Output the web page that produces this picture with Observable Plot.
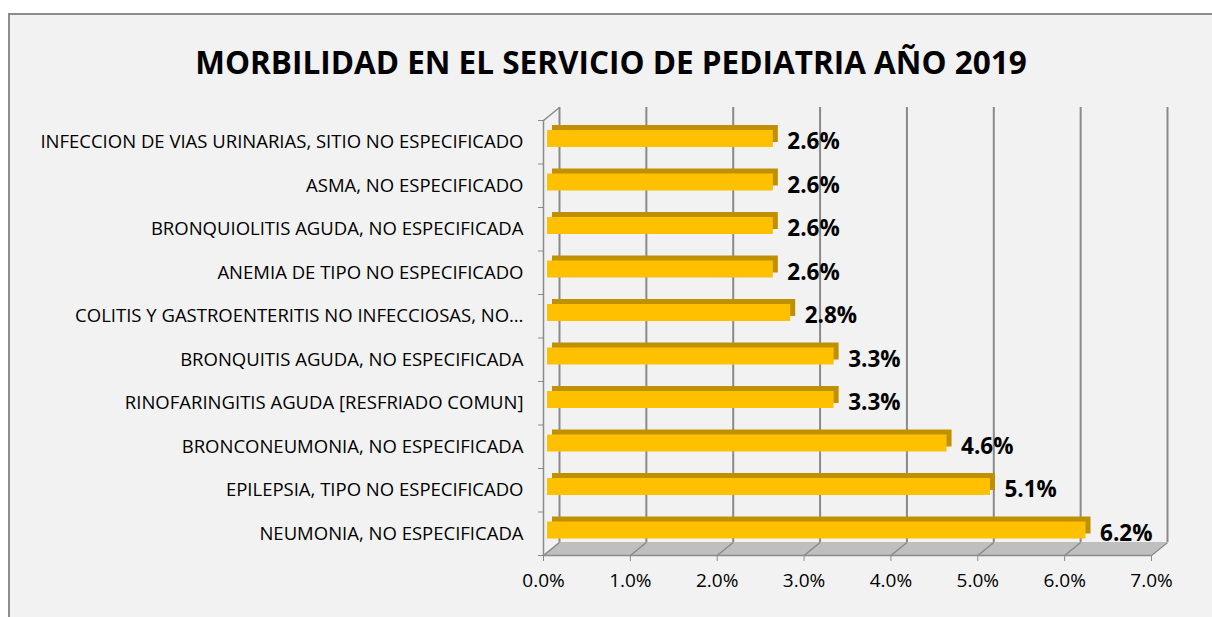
<!DOCTYPE html>
<html>
<head>
<meta charset="utf-8">
<script src="https://cdn.jsdelivr.net/npm/d3@7"></script>
<script src="https://cdn.jsdelivr.net/npm/@observablehq/plot@0.6"></script>
<style>
  html, body { margin: 0; padding: 0; background: #ffffff; width: 1212px; height: 617px; overflow: hidden; }
  #frame { position: absolute; left: 8px; top: 13px; width: 1230px; height: 640px; background: #f2f2f2; border: 2px solid #8c8c8c; box-sizing: border-box; }
  #title { position: absolute; left: 0; top: 40px; width: 1222px; text-align: center; font-family: "Open Sans", sans-serif; font-weight: 700; font-size: 31.5px; line-height: 44px; color: #000; }
  #chart { position: absolute; left: 0; top: 96px; }
</style>
</head>
<body>
<div id="frame"></div>
<div id="title">MORBILIDAD EN EL SERVICIO DE PEDIATRIA AÑO 2019</div>
<div id="chart"></div>
<script>
// Categories top to bottom
const categories = [
  "INFECCION DE VIAS URINARIAS, SITIO NO ESPECIFICADO",
  "ASMA, NO ESPECIFICADO",
  "BRONQUIOLITIS AGUDA, NO ESPECIFICADA",
  "ANEMIA DE TIPO NO ESPECIFICADO",
  "COLITIS Y GASTROENTERITIS NO INFECCIOSAS, NO…",
  "BRONQUITIS AGUDA, NO ESPECIFICADA",
  "RINOFARINGITIS AGUDA [RESFRIADO COMUN]",
  "BRONCONEUMONIA, NO ESPECIFICADA",
  "EPILEPSIA, TIPO NO ESPECIFICADO",
  "NEUMONIA, NO ESPECIFICADA"
];
const values = [2.6, 2.6, 2.6, 2.6, 2.8, 3.3, 3.3, 4.6, 5.1, 6.2];
const xTicks = [0, 1, 2, 3, 4, 5, 6, 7];

const data = categories.map((c, i) => ({cat: c, row: i, value: values[i]}));
const rows = d3.range(categories.length);

const W = 1212, H = 512;
const mL = 543, mR = 61, mT = 24, mB = 53;
const pxPerX = (W - mL - mR) / (xTicks[xTicks.length - 1] - xTicks[0]);
const pxPerRow = (H - mT - mB) / categories.length;
const depthX = 16 / pxPerX;   // 3D depth, horizontal (data units)
const depthY = 13 / pxPerRow; // 3D depth, vertical (row units)
const N = categories.length;
const xMax = xTicks[xTicks.length - 1];
const gray = "#8a8a8a";

const floor = [
  {y: N, x1: 0, x2: xMax},
  {y: N - depthY, x1: depthX, x2: xMax + depthX}
];

const chart = Plot.plot({
  width: W, height: H,
  marginLeft: mL, marginRight: mR, marginTop: mT, marginBottom: mB,
  style: {background: "transparent", fontFamily: "'Open Sans', sans-serif", fontSize: "18.5px", color: "#000", overflow: "visible"},
  x: {domain: [0, xMax], axis: null},
  y: {domain: [0, N], reverse: true, axis: null},
  marks: [
    // floor
    Plot.areaX(floor, {y: "y", x1: "x1", x2: "x2", fill: "#bfbfbf", curve: "linear"}),
    Plot.link(xTicks, {x1: d => d, y1: N, x2: d => d + depthX, y2: N - depthY, stroke: gray, strokeWidth: 1.5}),
    // back wall gridlines
    Plot.ruleX(xTicks, {x: d => d + depthX, y1: -depthY, y2: N - depthY, stroke: gray, strokeWidth: 2}),
    // left wall
    Plot.ruleX([0], {y1: 0, y2: N, stroke: gray, strokeWidth: 1.5}),
    Plot.link([0], {x1: 0, y1: 0, x2: depthX, y2: -depthY, stroke: gray, strokeWidth: 1.5}),
    Plot.ruleY([N], {x1: 0, x2: xMax, stroke: gray, strokeWidth: 1.5}),
    // y ticks at row boundaries
    Plot.axisY(d3.range(N + 1), {tickSize: 5, tickFormat: () => "", label: null, stroke: gray}),
    // category labels
    Plot.axisY(rows.map(i => i + 0.5), {tickSize: 0, tickPadding: 20, label: null, tickFormat: v => categories[Math.round(v - 0.5)], fontSize: 18.5, fill: "#000"}),
    // x axis
    Plot.axisX(xTicks, {tickSize: 6, tickPadding: 12, label: null, tickFormat: d => d.toFixed(1) + "%", fontSize: 19, stroke: gray, fill: "#000"}),
    // bar 3D top/side
    Plot.rectX(data, {x: "value", y1: d => d.row, y2: d => d.row + 1, insetTop: 10, insetBottom: 16.5, dx: 9, dy: -5, fill: "#bf9000"}),
    // bar front
    Plot.rectX(data, {x: "value", y1: d => d.row, y2: d => d.row + 1, insetTop: 10, insetBottom: 16.5, dx: 4, fill: "#ffc000"}),
    // value labels
    Plot.text(data, {x: "value", y: d => d.row + 0.5, text: d => d.value.toFixed(1) + "%", dx: 18, textAnchor: "start", fontWeight: "bold", fontSize: 22.5, fill: "#000"})
  ]
});
document.getElementById("chart").appendChild(chart);
</script>
</body>
</html>
